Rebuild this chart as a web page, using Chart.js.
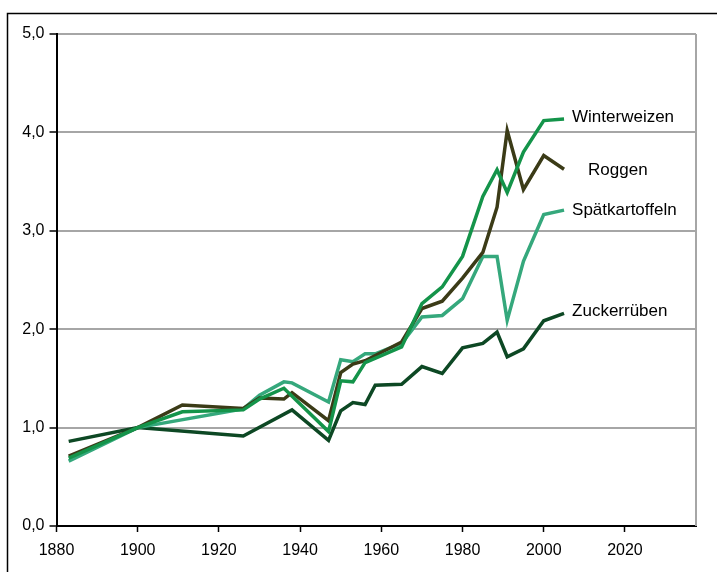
<!DOCTYPE html>
<html>
<head>
<meta charset="utf-8">
<script src="https://cdn.jsdelivr.net/npm/chart.js@4/dist/chart.umd.min.js"></script>
<style>
  html, body { margin: 0; padding: 0; background: #fff; }
  #wrap { width: 717px; height: 572px; position: relative; }
</style>
</head>
<body>
<div id="wrap"><canvas id="ertragChart" width="717" height="572"></canvas></div>
<script>
// Ertragsentwicklung (Index, 1900 = 1,0)
const years = [1883, 1900, 1911, 1926, 1930, 1936, 1938, 1947, 1950, 1953, 1956, 1958.5, 1965, 1970, 1975, 1980, 1985, 1988.5, 1991, 1995, 2000, 2005];

const winterweizen   = [0.69, 1.0, 1.16, 1.18, 1.29, 1.40, null, 0.96, 1.475, 1.465, 1.66, null, 1.82, 2.26, 2.43, 2.74, 3.35, 3.62, 3.39, 3.80, 4.12, 4.135];
const roggen         = [0.71, 1.0, 1.23, 1.195, 1.30, 1.29, 1.355, 1.07, 1.56, 1.645, 1.68, null, 1.87, 2.21, 2.285, 2.52, 2.78, 3.24, 4.02, 3.42, 3.765, 3.625];
const spaetkartoffel = [0.66, 1.0, null, 1.19, 1.33, 1.465, 1.455, 1.26, 1.69, 1.67, 1.75, 1.75, 1.855, 2.125, 2.14, 2.31, 2.74, 2.74, 2.09, 2.69, 3.165, 3.21];
const zuckerrueben   = [0.86, 1.0, null, 0.915, null, null, 1.18, 0.87, 1.17, 1.255, 1.235, 1.43, 1.44, 1.62, 1.55, 1.81, 1.855, 1.97, 1.72, 1.80, 2.085, 2.16];

const xTicks = [1880, 1900, 1920, 1940, 1960, 1980, 2000, 2020];
const yTicks = [0, 1, 2, 3, 4, 5];

function toPoints(values) {
    return years.map((x, i) => ({ x: x, y: values[i] }));
}

const FONT = "'Liberation Sans', Arial, sans-serif";

// label next to the end of each line
const endLabels = {
    id: 'endLabels',
    afterDatasetsDraw(chart) {
        const ctx = chart.ctx;
        ctx.save();
        ctx.font = '17px ' + FONT;
        ctx.fillStyle = '#000';
        ctx.textBaseline = 'middle';
        chart.data.datasets.forEach((ds, i) => {
            const pts = chart.getDatasetMeta(i).data;
            const last = pts[pts.length - 1];
            ctx.fillText(ds.label, last.x + ds.labelDx, last.y + ds.labelDy);
        });
        ctx.restore();
    }
};

// outer frame + grey right border of plot area
const frame = {
    id: 'frame',
    beforeDraw(chart) {
        const ctx = chart.ctx;
        ctx.save();
        ctx.fillStyle = '#fff';
        ctx.fillRect(0, 0, chart.width, chart.height);
        ctx.strokeStyle = '#000';
        ctx.lineWidth = 1.5;
        ctx.strokeRect(7.5, 13.5, chart.width + 20, chart.height + 20);
        ctx.restore();
    },
    afterDraw(chart) {
        const a = chart.chartArea;
        const ctx = chart.ctx;
        ctx.save();
        ctx.strokeStyle = '#a6a6a6';
        ctx.lineWidth = 2;
        ctx.beginPath();
        ctx.moveTo(a.right, a.top);
        ctx.lineTo(a.right, a.bottom);
        ctx.stroke();
        ctx.restore();
    }
};

new Chart(document.getElementById('ertragChart'), {
    type: 'line',
    plugins: [frame, endLabels],
    data: {
        datasets: [
            { label: 'Winterweizen', data: toPoints(winterweizen), borderColor: '#14944a', labelDx: 8, labelDy: -2 },
            { label: 'Roggen', data: toPoints(roggen), borderColor: '#3b3b17', labelDx: 24, labelDy: 1 },
            { label: 'Spätkartoffeln', data: toPoints(spaetkartoffel), borderColor: '#35a87c', labelDx: 8, labelDy: 0 },
            { label: 'Zuckerrüben', data: toPoints(zuckerrueben), borderColor: '#0d4824', labelDx: 8, labelDy: -2 }
        ]
    },
    options: {
        responsive: false,
        animation: false,
        spanGaps: true,
        elements: {
            line: { borderWidth: 3.5, tension: 0, borderCapStyle: 'butt', borderJoinStyle: 'miter' },
            point: { radius: 0 }
        },
        layout: { padding: { top: 34, right: 21, left: 0, bottom: 0 } },
        plugins: {
            legend: { display: false },
            tooltip: { enabled: false }
        },
        scales: {
            x: {
                type: 'linear',
                min: 1880,
                max: 2037.5,
                afterBuildTicks: s => { s.ticks = xTicks.map(v => ({ value: v })); },
                afterFit: s => { s.height = 46; },
                grid: { drawOnChartArea: false, drawTicks: true, tickLength: 6, tickColor: '#000', tickWidth: 1.5 },
                border: { color: '#000', width: 2 },
                ticks: {
                    color: '#000',
                    font: { family: FONT, size: 16 },
                    padding: 9,
                    maxRotation: 0,
                    callback: v => String(v)
                }
            },
            y: {
                min: 0,
                max: 5,
                afterBuildTicks: s => { s.ticks = yTicks.map(v => ({ value: v })); },
                afterFit: s => { s.width = 56.5; },
                grid: {
                    color: c => c.tick && c.tick.value === 0 ? 'rgba(0,0,0,0)' : '#a6a6a6',
                    lineWidth: 2,
                    tickColor: '#000',
                    tickLength: 7,
                    tickWidth: 1.5
                },
                border: { color: '#000', width: 2 },
                ticks: {
                    color: '#000',
                    font: { family: FONT, size: 16 },
                    padding: 5,
                    callback: v => v.toFixed(1).replace('.', ',')
                }
            }
        }
    }
});
</script>
</body>
</html>
